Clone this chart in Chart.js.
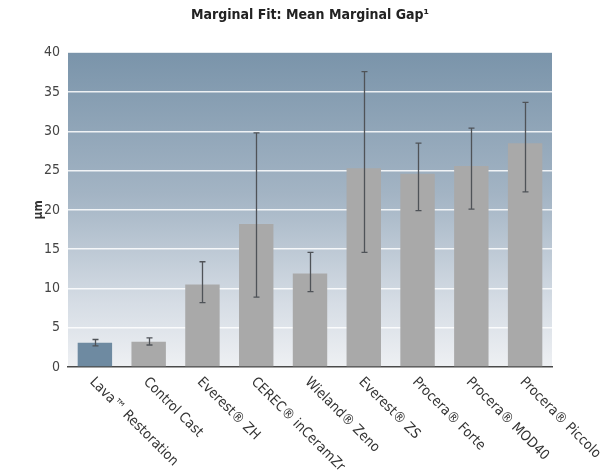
<!DOCTYPE html>
<html>
<head>
<meta charset="utf-8">
<script src="https://cdn.jsdelivr.net/npm/chart.js@4"></script>
<style>
html,body{margin:0;padding:0;background:#fff;}
#wrap{width:601px;height:475px;position:relative;}
</style>
</head>
<body>
<div id="wrap"><canvas id="c" width="601" height="475"></canvas></div>
<script>
const categories = ["Lava\u2122 Restoration","Control Cast","Everest\u00ae ZH","CEREC\u00ae inCeramZr","Wieland\u00ae Zeno","Everest\u00ae ZS","Procera\u00ae Forte","Procera\u00ae MOD40","Procera\u00ae Piccolo"];
const meanGap = [3.1, 3.2, 10.5, 18.2, 11.9, 25.3, 24.6, 25.6, 28.5];
const errLow  = [2.7, 2.8, 8.2, 8.9, 9.6, 14.6, 19.9, 20.1, 22.3];
const errHigh = [3.5, 3.7, 13.4, 29.8, 14.6, 37.6, 28.5, 30.4, 33.7];
const yTicks = [0, 5, 10, 15, 20, 25, 30, 35, 40];

const FONT = "'Liberation Sans Narrow','DejaVu Sans Condensed','Arial Narrow',sans-serif";

const bgPlugin = {
  id: 'bgGrad',
  beforeDraw(chart) {
    const {ctx, chartArea: a} = chart;
    const g = ctx.createLinearGradient(0, a.top, 0, a.bottom);
    g.addColorStop(0, '#7a94aa');
    g.addColorStop(0.45, '#a3b4c4');
    g.addColorStop(0.8, '#d6dde5');
    g.addColorStop(1, '#eef0f3');
    ctx.save();
    ctx.fillStyle = g;
    ctx.fillRect(a.left, a.top, a.right - a.left, a.bottom - a.top);
    ctx.restore();
  }
};

const errPlugin = {
  id: 'errBars',
  afterDatasetsDraw(chart) {
    const {ctx} = chart;
    const meta = chart.getDatasetMeta(0);
    const ys = chart.scales.y;
    ctx.save();
    ctx.strokeStyle = '#4f5358';
    ctx.lineWidth = 1.3;
    meta.data.forEach((bar, i) => {
      const x = Math.round(bar.x) + 0.5;
      const yh = ys.getPixelForValue(errHigh[i]);
      const yl = ys.getPixelForValue(errLow[i]);
      ctx.beginPath();
      ctx.moveTo(x, yh); ctx.lineTo(x, yl);
      ctx.moveTo(x - 3, yh); ctx.lineTo(x + 3, yh);
      ctx.moveTo(x - 3, yl); ctx.lineTo(x + 3, yl);
      ctx.stroke();
    });
    ctx.restore();
  }
};

const xLabelPlugin = {
  id: 'xLabels',
  afterDraw(chart) {
    const {ctx} = chart;
    const xs = chart.scales.x;
    const a = chart.chartArea;
    ctx.save();
    ctx.fillStyle = '#333';
    ctx.font = '14px ' + FONT;
    ctx.textAlign = 'left';
    ctx.textBaseline = 'middle';
    categories.forEach((lab, i) => {
      const x = xs.getPixelForValue(i);
      ctx.save();
      ctx.translate(x - 3, a.bottom + 13);
      ctx.rotate(Math.PI / 4);
      ctx.fillText(lab, 0, 0);
      ctx.restore();
    });
    ctx.restore();
  }
};

new Chart(document.getElementById('c'), {
  type: 'bar',
  data: {
    labels: categories,
    datasets: [{
      data: meanGap,
      backgroundColor: meanGap.map((v, i) => i === 0 ? '#6e8aa1' : '#a9a9a9'),
      borderWidth: 0,
      categoryPercentage: 1.0,
      barPercentage: 0.64
    }]
  },
  options: {
    responsive: false,
    animation: false,
    devicePixelRatio: 1,
    layout: { padding: { left: 8, right: 49, top: 0, bottom: 108 } },
    plugins: {
      legend: { display: false },
      tooltip: { enabled: false },
      title: {
        display: true,
        fullSize: false,
        text: 'Marginal Fit: Mean Marginal Gap\u00b9',
        color: '#222',
        font: { family: FONT, size: 14, weight: 'bold' },
        padding: { top: 7, bottom: 29 }
      }
    },
    scales: {
      x: {
        type: 'category',
        grid: { display: false, drawTicks: false },
        border: { display: true, color: '#4a4a4a', width: 1.5 },
        ticks: { display: false }
      },
      y: {
        min: 0, max: 40,
        afterFit(s) { s.width = 60; },
        afterBuildTicks(s) { s.ticks = yTicks.map(v => ({value: v})); },
        grid: {
          color: (c) => (c.tick && (c.tick.value === 0 || c.tick.value === 40)) ? 'rgba(0,0,0,0)' : 'rgba(255,255,255,0.85)',
          lineWidth: 1.5,
          drawTicks: false
        },
        border: { display: false },
        ticks: {
          color: '#444',
          padding: 8,
          font: { family: FONT, size: 14 }
        },
        title: {
          display: true,
          text: '\u00b5m',
          color: '#333',
          font: { family: FONT, size: 12, weight: 'bold' },
          padding: { top: 24, bottom: 0 }
        }
      }
    }
  },
  plugins: [bgPlugin, errPlugin, xLabelPlugin]
});
</script>
</body>
</html>
